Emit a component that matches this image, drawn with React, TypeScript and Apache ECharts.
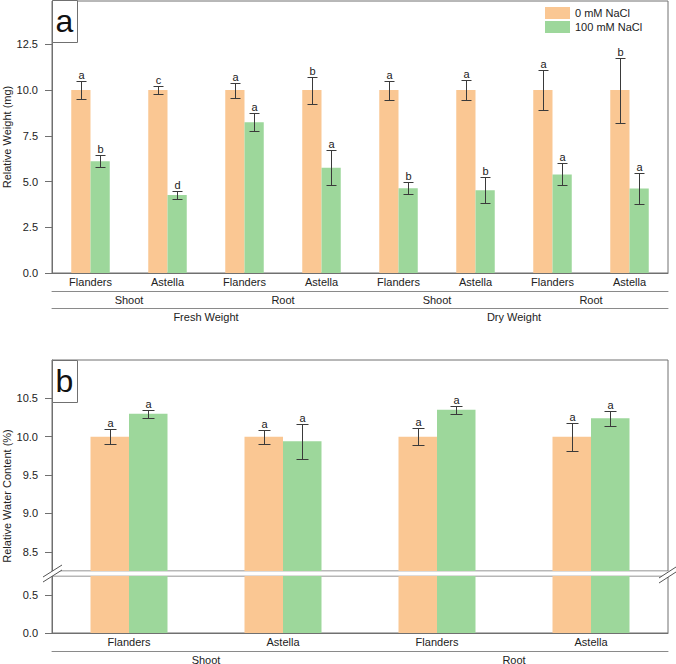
import React, { useEffect, useRef } from "react";
import * as echarts from "echarts";

const FONT = "Liberation Sans, Arial, Helvetica, sans-serif";

// Panel a: relative weight
const weightCultivars = ["Flanders", "Astella", "Flanders", "Astella", "Flanders", "Astella", "Flanders", "Astella"];
const weightTissues = ["Shoot", "Root", "Shoot", "Root"];
const weightMeasures = ["Fresh Weight", "Dry Weight"];
const weightControl = [10, 10, 10, 10, 10, 10, 10, 10];
const weightControlErr = [0.47, 0.24, 0.41, 0.74, 0.52, 0.55, 1.11, 1.78];
const weightControlLetters = ["a", "c", "a", "b", "a", "a", "a", "b"];
const weightSalt = [6.11, 4.26, 8.24, 5.75, 4.64, 4.53, 5.39, 4.62];
const weightSaltErr = [0.32, 0.24, 0.48, 0.95, 0.34, 0.71, 0.6, 0.85];
const weightSaltLetters = ["b", "d", "a", "a", "b", "b", "a", "a"];
const weightTicks = [0, 2.5, 5, 7.5, 10, 12.5];

// Panel b: relative water content
const waterCultivars = ["Flanders", "Astella", "Flanders", "Astella"];
const waterTissues = ["Shoot", "Root"];
const waterControl = [10, 10, 10, 10];
const waterControlErr = [0.1, 0.09, 0.11, 0.185];
const waterControlLetters = ["a", "a", "a", "a"];
const waterSalt = [10.3, 9.94, 10.35, 10.24];
const waterSaltErr = [0.05, 0.225, 0.05, 0.1];
const waterSaltLetters = ["a", "a", "a", "a"];
const waterUpperTicks = [8.5, 9, 9.5, 10, 10.5];
const waterLowerTicks = [0, 0.5];

const seriesNames = ["0 mM NaCl", "100 mM NaCl"];
const axisTitles = ["Relative Weight (mg)", "Relative Water Content (%)"];
const ORANGE = "#FAC793";
const GREEN = "#9DD79B";
const AXIS = "#707070";
const TEXT = "#222";

function errSeries(xIdx: number, yIdx: number, values: number[], errs: number[], letters: string[], side: number, cap: number) {
  return {
    type: "custom",
    xAxisIndex: xIdx,
    yAxisIndex: yIdx,
    silent: true,
    z: 5,
    clip: false,
    data: values.map((v, i) => [i, v - errs[i], v + errs[i]]),
    encode: { x: 0, y: [1, 2] },
    renderItem: (params: any, api: any) => {
      const i = api.value(0);
      const lo = api.value(1);
      const hi = api.value(2);
      const band = api.size([1, 0])[0];
      const top = api.coord([i, hi]);
      const bot = api.coord([i, lo]);
      const x = Math.round(top[0] + side * band * 0.125) + 0.5;
      const yt = Math.round(top[1]) + 0.5;
      const yb = Math.round(bot[1]) + 0.5;
      const st = { stroke: "#3a3a3a", lineWidth: 1 };
      return {
        type: "group",
        children: [
          { type: "line", shape: { x1: x, y1: yt, x2: x, y2: yb }, style: st },
          { type: "line", shape: { x1: x - cap, y1: yt, x2: x + cap, y2: yt }, style: st },
          { type: "line", shape: { x1: x - cap, y1: yb, x2: x + cap, y2: yb }, style: st },
          {
            type: "text",
            x: x,
            y: yt - 1,
            style: {
              text: letters[params.dataIndex],
              align: "center",
              verticalAlign: "bottom",
              fontSize: 11,
              fontFamily: FONT,
              fill: TEXT,
            },
          },
        ],
      };
    },
  };
}

function barSeries(name: string, xIdx: number, yIdx: number, data: number[], color: string) {
  return {
    type: "bar",
    name,
    xAxisIndex: xIdx,
    yAxisIndex: yIdx,
    data,
    barWidth: "25%",
    barGap: "0%",
    clip: true,
    itemStyle: { color },
    silent: true,
  };
}

const catAxis = (gridIndex: number, data: string[], offset: number, showLine: boolean, showLabel: boolean) => ({
  type: "category",
  gridIndex,
  data,
  position: "bottom",
  offset,
  axisLine: { show: showLine, lineStyle: { color: offset > 0 ? "#8a8a8a" : AXIS, width: 1 } },
  axisTick: { show: false },
  axisLabel: { show: showLabel, fontSize: 11, fontFamily: FONT, color: TEXT, margin: 3, interval: 0 },
  splitLine: { show: false },
});

const valAxis = (gridIndex: number, min: number, max: number, ticks: number[]) => ({
  type: "value",
  gridIndex,
  min,
  max,
  axisLine: { show: true, lineStyle: { color: AXIS } },
  axisTick: { show: true, length: 7, customValues: ticks, lineStyle: { color: AXIS } },
  axisLabel: {
    show: true,
    customValues: ticks,
    fontSize: 11,
    fontFamily: FONT,
    color: TEXT,
    margin: 14,
    formatter: (v: number) => v.toFixed(1),
  },
  splitLine: { show: false },
});

const gridBase = { left: 52, width: 616, show: true, borderColor: AXIS, borderWidth: 1, containLabel: false, outerBoundsMode: "none" };

const sideTitle = (text: string, y: number) => ({
  type: "text",
  z: 100,
  x: 7,
  y,
  rotation: Math.PI / 2,
  style: { text, fontSize: 11, fontFamily: FONT, fill: TEXT, align: "center", verticalAlign: "middle" },
});

export default function App() {
  const ref = useRef<HTMLDivElement>(null);

  useEffect(() => {
    document.body.style.margin = "0";
    if (!ref.current) return;
    const chart = echarts.init(ref.current, undefined, { renderer: "svg" });

    const option: any = {
      animation: false,
      textStyle: { fontFamily: FONT },
      legend: {
        data: seriesNames,
        orient: "vertical",
        left: 545,
        top: 7,
        padding: 0,
        itemGap: 2,
        itemWidth: 25,
        itemHeight: 12,
        icon: "rect",
        selectedMode: false,
        textStyle: { fontSize: 11, fontFamily: FONT, color: TEXT },
      },
      grid: [
        { ...gridBase, top: 1, height: 272 },
        { ...gridBase, top: 360, height: 211 },
        { ...gridBase, top: 576, height: 57 },
      ],
      xAxis: [
        catAxis(0, weightCultivars, 0, true, true),
        catAxis(0, weightTissues, 18, true, true),
        catAxis(0, weightMeasures, 35, true, true),
        catAxis(1, waterCultivars, 0, false, false),
        catAxis(2, waterCultivars, 0, true, true),
        catAxis(2, waterTissues, 18, true, true),
      ],
      yAxis: [
        valAxis(0, 0, 14.87, weightTicks),
        valAxis(1, 8.25, 11, waterUpperTicks),
        valAxis(2, 0, 0.75, waterLowerTicks),
      ],
      series: [
        barSeries(seriesNames[0], 0, 0, weightControl, ORANGE),
        barSeries(seriesNames[1], 0, 0, weightSalt, GREEN),
        barSeries(seriesNames[0], 3, 1, waterControl, ORANGE),
        barSeries(seriesNames[1], 3, 1, waterSalt, GREEN),
        barSeries(seriesNames[0], 4, 2, waterControl, ORANGE),
        barSeries(seriesNames[1], 4, 2, waterSalt, GREEN),
        errSeries(0, 0, weightControl, weightControlErr, weightControlLetters, -1, 5),
        errSeries(0, 0, weightSalt, weightSaltErr, weightSaltLetters, 1, 5),
        errSeries(3, 1, waterControl, waterControlErr, waterControlLetters, -1, 6),
        errSeries(3, 1, waterSalt, waterSaltErr, waterSaltLetters, 1, 6),
      ],
      graphic: [
        // panel labels
        { type: "rect", z: 100, shape: { x: 52.5, y: 0.5, width: 25, height: 42 }, style: { fill: "#fff", stroke: AXIS, lineWidth: 1 } },
        { type: "text", z: 101, x: 64.5, y: 21, style: { text: "a", fontSize: 32, fontFamily: FONT, fill: "#111", align: "center", verticalAlign: "middle" } },
        { type: "rect", z: 100, shape: { x: 52.5, y: 360.5, width: 25, height: 42 }, style: { fill: "#fff", stroke: AXIS, lineWidth: 1 } },
        { type: "text", z: 101, x: 64.5, y: 380.5, style: { text: "b", fontSize: 32, fontFamily: FONT, fill: "#111", align: "center", verticalAlign: "middle" } },
        // axis titles
        sideTitle(axisTitles[0], 137),
        sideTitle(axisTitles[1], 496),
        // axis break gap
        { type: "rect", z: 100, shape: { x: 45, y: 571.5, width: 631, height: 4 }, style: { fill: "#fff" } },
        { type: "polygon", z: 101, shape: { points: [[43, 577], [62, 565], [62, 570], [43, 582]] }, style: { fill: "#fff" } },
        { type: "line", z: 102, shape: { x1: 43, y1: 577, x2: 62, y2: 565 }, style: { stroke: "#555", lineWidth: 1 } },
        { type: "line", z: 102, shape: { x1: 43, y1: 582, x2: 62, y2: 570 }, style: { stroke: "#555", lineWidth: 1 } },
        { type: "polygon", z: 101, shape: { points: [[659, 578], [676, 567], [676, 572], [659, 583]] }, style: { fill: "#fff" } },
        { type: "line", z: 102, shape: { x1: 659, y1: 578, x2: 676, y2: 567 }, style: { stroke: "#555", lineWidth: 1 } },
        { type: "line", z: 102, shape: { x1: 659, y1: 583, x2: 676, y2: 572 }, style: { stroke: "#555", lineWidth: 1 } },
      ],
    };

    chart.setOption(option);
    return () => chart.dispose();
  }, []);

  return <div ref={ref} style={{ width: 676, height: 664 }} />;
}
